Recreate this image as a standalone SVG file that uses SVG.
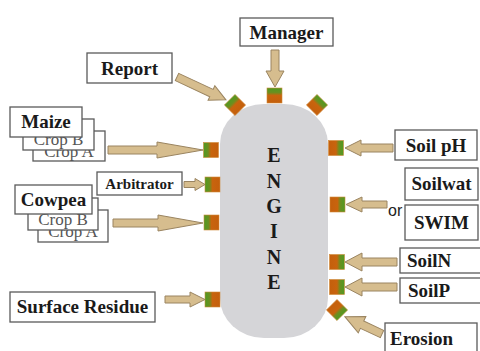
<svg xmlns="http://www.w3.org/2000/svg" width="480" height="351" viewBox="0 0 480 351">
<style>
.box{fill:#fff;stroke:#5a5a5a;stroke-width:1.3}
.lbl{font-family:"Liberation Serif","Times New Roman",serif;font-weight:bold;font-size:19px;fill:#1a1a1a;text-anchor:middle}
.lbl-s{font-family:"Liberation Serif","Times New Roman",serif;font-weight:bold;font-size:15px;fill:#1a1a1a;text-anchor:middle}
.hid{font-family:"Liberation Serif","Times New Roman",serif;font-size:17px;fill:#555;text-anchor:middle}
.eng{font-family:"Liberation Serif","Times New Roman",serif;font-weight:bold;font-size:20px;fill:#1a1a1a;text-anchor:middle}
.or{font-family:"Liberation Sans",Arial,sans-serif;font-size:16px;fill:#222}
.arr{fill:#d6bd8e;stroke:#9a8460;stroke-width:1}
.port{fill:url(#pg);stroke:#d08a3a;stroke-width:0.6}
</style>
<defs>
<linearGradient id="pg" x1="0" y1="0" x2="1" y2="0">
<stop offset="0" stop-color="#4e9a22"/>
<stop offset="0.3" stop-color="#6b8f1f"/>
<stop offset="0.5" stop-color="#c8640e"/>
<stop offset="1" stop-color="#c45f0c"/>
</linearGradient>
<rect id="p" class="port" x="-7.5" y="-7.5" width="15" height="15"/>
</defs>
<rect width="480" height="351" fill="#fff"/>

<g id="engine">
<rect x="220" y="104" width="108" height="234" rx="44" ry="40" fill="#d5d5d8"/>
<text class="eng" x="274" y="162">E</text>
<text class="eng" x="274" y="188">N</text>
<text class="eng" x="274" y="213">G</text>
<text class="eng" x="274" y="238">I</text>
<text class="eng" x="274" y="264">N</text>
<text class="eng" x="274" y="289">E</text>
</g>

<g id="ports">
<use href="#p" transform="translate(235,105) rotate(45)"/>
<use href="#p" transform="translate(274.5,95.5) rotate(90)"/>
<use href="#p" transform="translate(317,105) rotate(135)"/>
<use href="#p" transform="translate(211,150)"/>
<use href="#p" transform="translate(212.5,184.5)"/>
<use href="#p" transform="translate(211.5,222.5)"/>
<use href="#p" transform="translate(212.5,299.5)"/>
<use href="#p" transform="translate(336,148) rotate(180)"/>
<use href="#p" transform="translate(337.5,204.5) rotate(180)"/>
<use href="#p" transform="translate(337,262) rotate(180)"/>
<use href="#p" transform="translate(337,287) rotate(180)"/>
<use href="#p" transform="translate(337,310) rotate(225)"/>
</g>

<g id="connectors">
<path class="arr" transform="translate(177,77) rotate(25)" d="M0,-4 L38,-4 L38,-8 L54,0 L38,8 L38,4 L0,4 Z"/>
<path class="arr" transform="translate(275,50) rotate(90)" d="M0,-4 L21,-4 L21,-9 L37,0 L21,9 L21,4 L0,4 Z"/>
<path class="arr" d="M108,146 L157,146 L157,142 L203,150 L157,158 L157,154 L108,154 Z"/>
<path class="arr" d="M184,181.5 L195,181.5 L195,178.5 L205,184.5 L195,190.5 L195,187.5 L184,187.5 Z"/>
<path class="arr" d="M113,219 L158,219 L158,215 L203,223 L158,231 L158,227 L113,227 Z"/>
<path class="arr" d="M165,296 L190,296 L190,292 L205,299.5 L190,307 L190,303 L165,303 Z"/>
<path class="arr" d="M393,144 L361,144 L361,140 L345,148 L361,156 L361,152 L393,152 Z"/>
<path class="arr" d="M387,201 L362,201 L362,197 L346,204.5 L362,212 L362,208 L387,208 Z"/>
<path class="arr" d="M397,258 L362,258 L362,253 L345,262 L362,271 L362,266 L397,266 Z"/>
<path class="arr" d="M397,283 L362,283 L362,278 L345,287 L362,296 L362,291 L397,291 Z"/>
<path class="arr" transform="translate(382,334) rotate(205)" d="M0,-4 L22,-4 L22,-9 L41,0 L22,9 L22,4 L0,4 Z"/>
</g>

<g id="manager"><rect class="box" x="240" y="18" width="93" height="28"/><text class="lbl" x="286.5" y="38.5">Manager</text></g>
<g id="report"><rect class="box" x="87" y="53" width="85" height="30"/><text class="lbl" x="129.5" y="74.5">Report</text></g>

<g id="maize">
<rect class="box" x="33" y="131" width="72" height="30"/><text class="hid" x="69" y="157">Crop A</text>
<rect class="box" x="23" y="119" width="71" height="31"/><text class="hid" x="58.5" y="145">Crop B</text>
<rect class="box" x="10" y="107" width="72" height="30"/><text class="lbl" x="46" y="128">Maize</text>
</g>

<g id="arbitrator"><rect class="box" x="97" y="172" width="85" height="23"/><text class="lbl-s" x="139.5" y="189">Arbitrator</text></g>

<g id="cowpea">
<rect class="box" x="38" y="210" width="70" height="32"/><text class="hid" x="73" y="237">Crop A</text>
<rect class="box" x="28" y="198" width="70" height="32"/><text class="hid" x="63" y="225">Crop B</text>
<rect class="box" x="15" y="185" width="77" height="29"/><text class="lbl" x="53.5" y="206">Cowpea</text>
</g>

<g id="surface-residue"><rect class="box" x="10" y="292" width="145" height="30"/><text class="lbl" x="82.5" y="313">Surface Residue</text></g>
<g id="soil-ph"><rect class="box" x="395" y="130" width="82" height="30"/><text class="lbl" x="436" y="151.5">Soil pH</text></g>
<g id="soilwat"><rect class="box" x="405" y="168" width="73" height="32"/><text class="lbl" x="441.5" y="190">Soilwat</text></g>
<g id="swim"><rect class="box" x="405" y="205" width="73" height="35"/><text class="lbl" x="441.5" y="229">SWIM</text></g>
<text class="or" x="388" y="216">or</text>
<g id="soiln"><rect class="box" x="400" y="248" width="82" height="25"/><text class="lbl" x="407" y="267" style="text-anchor:start">SoilN</text></g>
<g id="soilp"><rect class="box" x="400" y="278" width="82" height="25"/><text class="lbl" x="408" y="297" style="text-anchor:start">SoilP</text></g>
<g id="erosion"><rect class="box" x="385" y="323" width="92" height="30"/><text class="lbl" x="390" y="345" style="text-anchor:start">Erosion</text></g>
</svg>
